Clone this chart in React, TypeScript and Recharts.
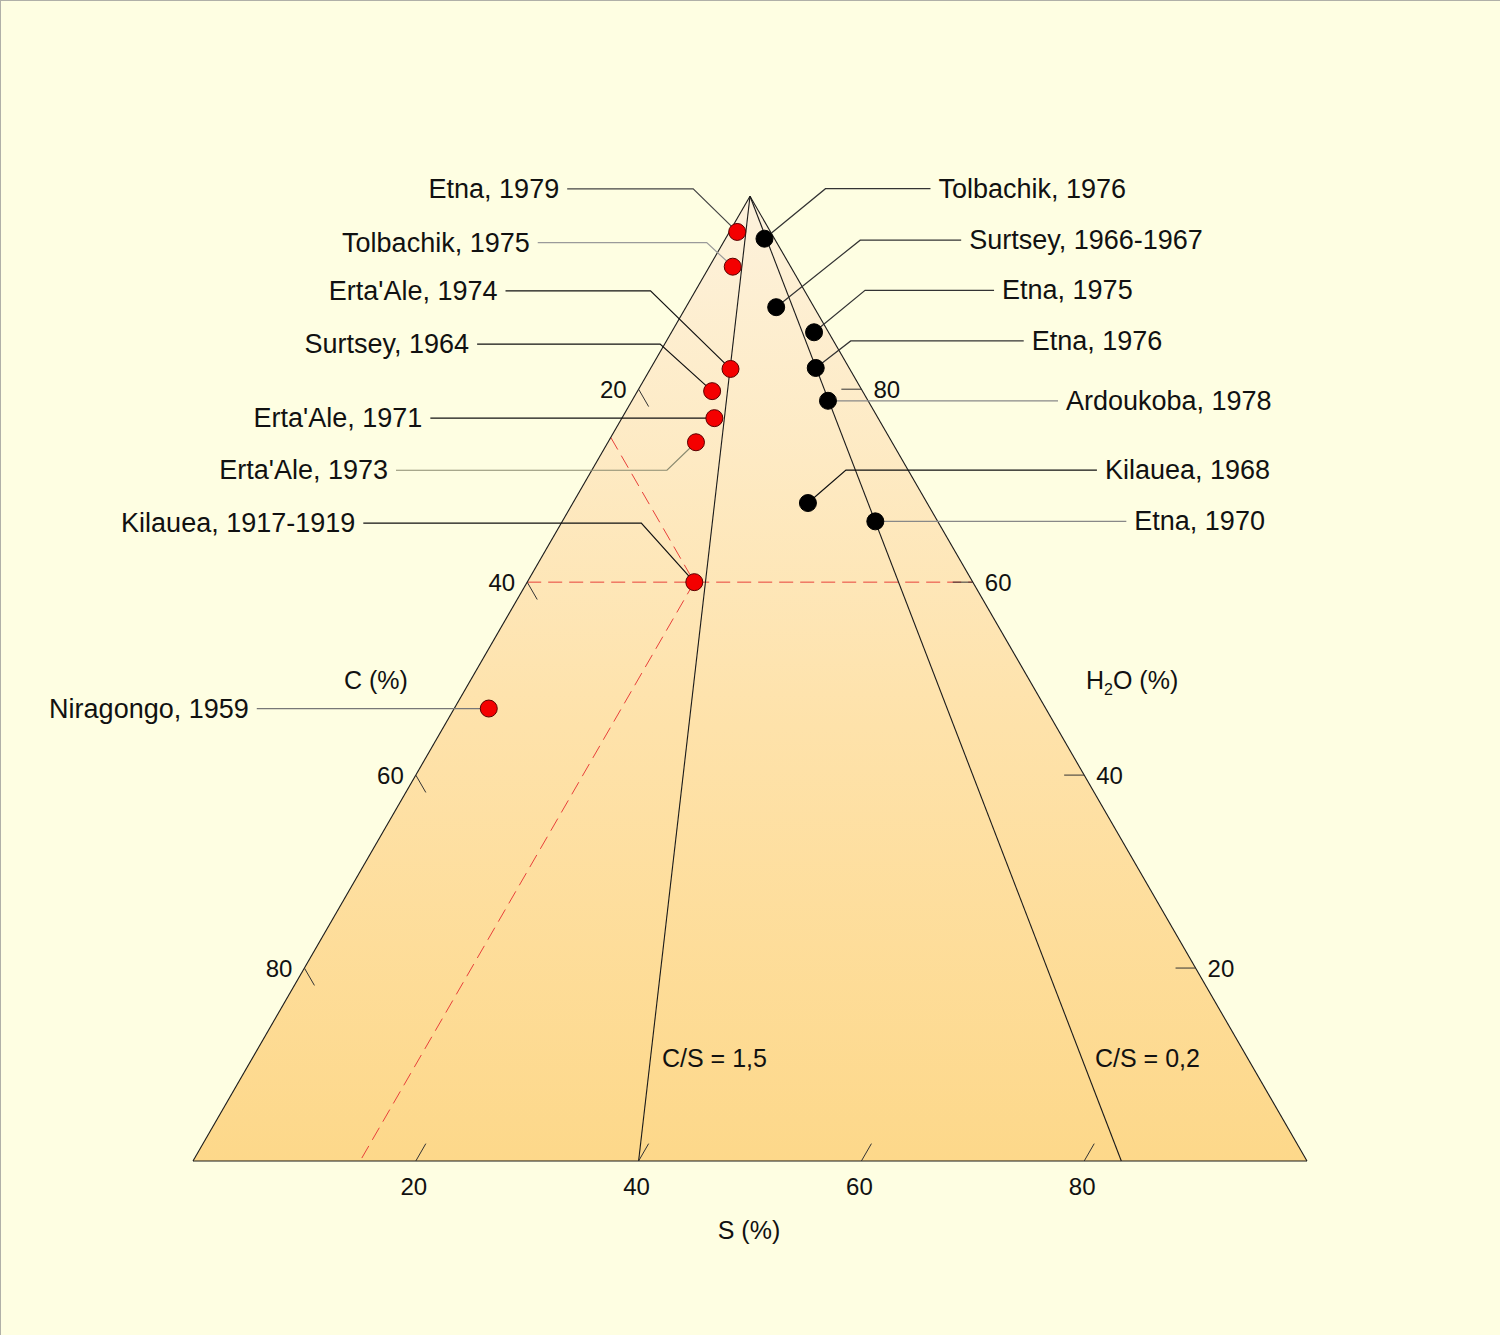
import React from "react";
import {
  ComposedChart,
  Area,
  Scatter,
  XAxis,
  YAxis,
  ReferenceLine,
} from "recharts";

// Compositions des gaz volcaniques (%), S + C + H2O = 100
const redNames = [
  "Etna, 1979",
  "Tolbachik, 1975",
  "Erta'Ale, 1974",
  "Surtsey, 1964",
  "Erta'Ale, 1971",
  "Erta'Ale, 1973",
  "Kilauea, 1917-1919",
  "Niragongo, 1959",
];
const redS = [0.7, 2.1, 7.2, 6.7, 8.3, 7.9, 15, 3.1];
const redH2O = [96.3, 92.7, 82.1, 79.8, 77.0, 74.5, 60, 46.9];

const blackNames = [
  "Tolbachik, 1976",
  "Surtsey, 1966-1967",
  "Etna, 1975",
  "Etna, 1976",
  "Ardoukoba, 1978",
  "Kilauea, 1968",
  "Etna, 1970",
];
const blackS = [3.5, 8.1, 12.8, 14.8, 17.6, 21.1, 28.1];
const blackH2O = [95.6, 88.5, 85.9, 82.2, 78.8, 68.2, 66.3];

const axisTicks = [20, 40, 60, 80];
const csRatios = [1.5, 0.2];
// point de lecture (Kilauea 1917-1919)
const readS = 15;
const readC = 25;
const readH2O = 60;

// placement des étiquettes (px, relatif au point)
const leaderLayout: Record<string, { lx: number; ly: number; ex?: number; stroke: string }> = {
  "Etna, 1979": { lx: -170, ly: -43, ex: -44, stroke: "#444" },
  "Tolbachik, 1975": { lx: -195, ly: -24, ex: -26, stroke: "#9a9a9a" },
  "Erta'Ale, 1974": { lx: -225, ly: -78, ex: -80, stroke: "#111" },
  "Surtsey, 1964": { lx: -235, ly: -47, ex: -52, stroke: "#111" },
  "Erta'Ale, 1971": { lx: -284, ly: 0, stroke: "#111" },
  "Erta'Ale, 1973": { lx: -300, ly: 28, ex: -29, stroke: "#8a8a70" },
  "Kilauea, 1917-1919": { lx: -331, ly: -59, ex: -53, stroke: "#111" },
  "Niragongo, 1959": { lx: -232, ly: 0, stroke: "#777" },
  "Tolbachik, 1976": { lx: 166, ly: -50, ex: 61, stroke: "#333" },
  "Surtsey, 1966-1967": { lx: 185, ly: -67, ex: 84, stroke: "#333" },
  "Etna, 1975": { lx: 180, ly: -42, ex: 51, stroke: "#333" },
  "Etna, 1976": { lx: 208, ly: -27, ex: 35, stroke: "#333" },
  "Ardoukoba, 1978": { lx: 230, ly: 0, stroke: "#888" },
  "Kilauea, 1968": { lx: 289, ly: -33, ex: 38, stroke: "#111" },
  "Etna, 1970": { lx: 251, ly: 0, stroke: "#888" },
};

const W = 1500;
const H = 1335;
const PX = 11.14; // px par unité
const X0 = -193 / PX;
const Y1 = 1161 / PX;
const FONT = "'Liberation Sans', Arial, sans-serif";
const SQ = Math.sqrt(3) / 2;

const tern = (s: number, h: number) => ({ x: s + h / 2, y: h * SQ });

const redData = redNames.map((name, i) => ({ name, ...tern(redS[i], redH2O[i]) }));
const blackData = blackNames.map((name, i) => ({ name, ...tern(blackS[i], blackH2O[i]) }));
const triangle = [tern(0, 0), tern(0, 100), tern(100, 0)];

const PointShape = (fill: string, stroke: string, side: number) => (props: any) => {
  const { cx, cy, payload } = props;
  const l = leaderLayout[payload.name];
  const pts =
    l.ex !== undefined
      ? `${cx + l.lx},${cy + l.ly} ${cx + l.ex},${cy + l.ly} ${cx},${cy}`
      : `${cx + l.lx},${cy + l.ly} ${cx},${cy}`;
  return (
    <g>
      <polyline points={pts} fill="none" stroke={l.stroke} strokeWidth={1.2} />
      <circle cx={cx} cy={cy} r={8.5} fill={fill} stroke={stroke} strokeWidth={1} />
      <text
        x={cx + l.lx + side * 8}
        y={cy + l.ly + 9}
        textAnchor={side < 0 ? "end" : "start"}
        fontSize={27}
        fontFamily={FONT}
        fill="#111"
      >
        {payload.name}
      </text>
    </g>
  );
};

// étiquettes textuelles posées en coordonnées du diagramme
const textData = [
  ...axisTicks.map((v) => ({ ...tern(0, 100 - v), text: String(v), dx: -12, dy: 9, anchor: "end", size: 24 })),
  ...axisTicks.map((v) => ({ ...tern(100 - v, v), text: String(v), dx: 12, dy: 9, anchor: "start", size: 24 })),
  ...axisTicks.map((v) => ({ ...tern(v, 0), text: String(v), dx: -2, dy: 34, anchor: "middle", size: 24 })),
  { ...tern(0, 0), text: "C (%)", dx: 183, dy: -472, anchor: "middle", size: 25 },
  { ...tern(0, 0), text: "H2O", dx: 893, dy: -472, anchor: "start", size: 25 },
  { ...tern(0, 0), text: "S (%)", dx: 556, dy: 78, anchor: "middle", size: 25 },
  { ...tern(0, 0), text: "C/S = 1,5", dx: 469, dy: -94, anchor: "start", size: 25 },
  { ...tern(0, 0), text: "C/S = 0,2", dx: 902, dy: -94, anchor: "start", size: 25 },
];

const TextShape = (props: any) => {
  const { cx, cy, payload } = props;
  if (payload.text === "H2O") {
    return (
      <text x={cx + payload.dx} y={cy + payload.dy} fontSize={payload.size} fontFamily={FONT} fill="#111">
        H<tspan fontSize={16} dy={6}>2</tspan>
        <tspan dy={-6}>O (%)</tspan>
      </text>
    );
  }
  return (
    <text
      x={cx + payload.dx}
      y={cy + payload.dy}
      textAnchor={payload.anchor}
      fontSize={payload.size}
      fontFamily={FONT}
      fill="#111"
    >
      {payload.text}
    </text>
  );
};

const seg = (a: { x: number; y: number }, b: { x: number; y: number }) => [a, b];

export default function App() {
  const edges = [
    seg(triangle[0], triangle[1]),
    seg(triangle[1], triangle[2]),
    seg(triangle[0], triangle[2]),
  ];
  const csLines = csRatios.map((r) => seg(tern(0, 100), tern(100 / (1 + r), 0)));
  const ticks = [
    ...axisTicks.map((v) => seg(tern(0, 100 - v), tern(1.8, 100 - v - 1.8))),
    ...axisTicks.map((v) => seg(tern(100 - v, v), tern(100 - v - 1.8, v))),
    ...axisTicks.map((v) => seg(tern(v, 0), tern(v, 1.8))),
  ];
  const readLines = [
    seg(tern(0, readH2O), tern(100 - readH2O, readH2O)),
    seg(tern(0, 100 - readC), tern(readS, readH2O)),
    seg(tern(readS, readH2O), tern(readS, 0)),
  ];

  return (
    <div
      style={{
        position: "absolute",
        left: 0,
        top: 0,
        width: W,
        height: H,
        background: "#FEFEE2",
        boxShadow: "inset 1px 1px 0 #b0b0a8",
      }}
    >
      <ComposedChart width={W} height={H} margin={{ top: 0, right: 0, bottom: 0, left: 0 }}>
        <defs>
          <linearGradient id="fillTri" x1="0" y1="0" x2="0" y2="1">
            <stop offset="0%" stopColor="#FDF2DC" />
            <stop offset="55%" stopColor="#FEE2AA" />
            <stop offset="100%" stopColor="#FDD88A" />
          </linearGradient>
        </defs>
        <XAxis type="number" dataKey="x" domain={[X0, X0 + W / PX]} hide />
        <YAxis type="number" dataKey="y" domain={[Y1 - H / PX, Y1]} hide />
        <Area
          data={triangle}
          dataKey="y"
          type="linear"
          baseValue={0}
          fill="url(#fillTri)"
          fillOpacity={1}
          stroke="none"
          dot={false}
          activeDot={false}
          isAnimationActive={false}
        />
        {readLines.map((s, i) => (
          <ReferenceLine key={`r${i}`} segment={s} stroke="#E8403A" strokeWidth={1} strokeDasharray="14 7" />
        ))}
        {edges.map((s, i) => (
          <ReferenceLine key={`e${i}`} segment={s} stroke="#1a1a1a" strokeWidth={1.1} />
        ))}
        {csLines.map((s, i) => (
          <ReferenceLine key={`c${i}`} segment={s} stroke="#1a1a1a" strokeWidth={1.1} />
        ))}
        {ticks.map((s, i) => (
          <ReferenceLine key={`t${i}`} segment={s} stroke="#333" strokeWidth={1} />
        ))}
        <Scatter data={textData} shape={TextShape} isAnimationActive={false} />
        <Scatter data={blackData} shape={PointShape("#000", "#000", 1)} isAnimationActive={false} />
        <Scatter data={redData} shape={PointShape("#F40000", "#5a0000", -1)} isAnimationActive={false} />
      </ComposedChart>
    </div>
  );
}
